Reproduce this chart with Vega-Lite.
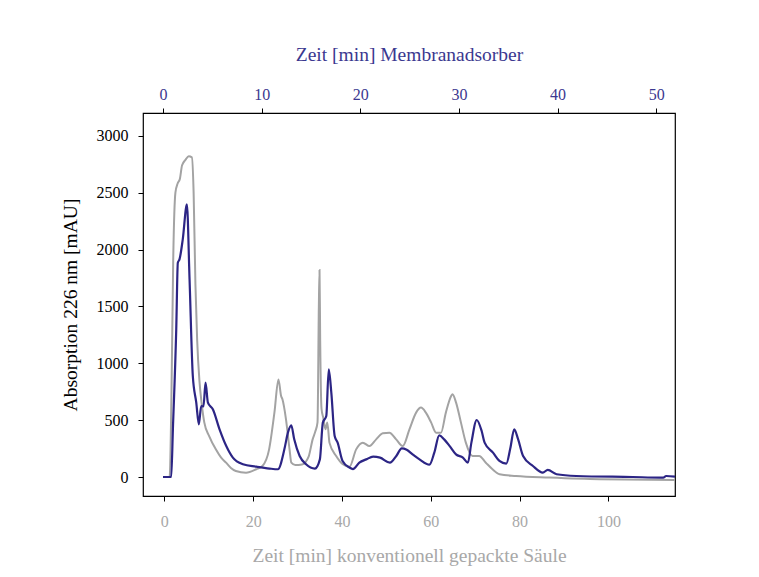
{
  "$schema": "https://vega.github.io/schema/vega-lite/v6.json",
  "autosize": "none",
  "width": 532,
  "height": 383,
  "padding": {"left": 143, "top": 113, "right": 84, "bottom": 81},
  "background": "white",
  "config": {
    "font": "Liberation Serif",
    "view": {"stroke": "black", "strokeWidth": 1.2},
    "axis": {"grid": false, "labelFont": "Liberation Serif", "titleFont": "Liberation Serif", "labelFontSize": 16, "titleFontSize": 19.5, "titleFontWeight": "normal", "tickSize": 5, "domain": false}
  },
  "datasets": {
    "saeule": [
      {"t": 0, "v": 0}, {"t": 1.2, "v": 0}, {"t": 1.6, "v": 700}, {"t": 2.0, "v": 1900}, {"t": 2.5, "v": 2500},
      {"t": 3.0, "v": 2580}, {"t": 3.5, "v": 2620}, {"t": 4.0, "v": 2740}, {"t": 4.8, "v": 2790}, {"t": 5.5, "v": 2820},
      {"t": 6.2, "v": 2810}, {"t": 6.6, "v": 2500}, {"t": 7.0, "v": 1700}, {"t": 7.4, "v": 1200}, {"t": 7.9, "v": 850},
      {"t": 8.4, "v": 650}, {"t": 9.0, "v": 480}, {"t": 10.1, "v": 360}, {"t": 11.6, "v": 243}, {"t": 12.8, "v": 170},
      {"t": 13.9, "v": 126}, {"t": 15.0, "v": 80}, {"t": 16.1, "v": 53}, {"t": 18.4, "v": 38}, {"t": 20.7, "v": 68},
      {"t": 22.1, "v": 97}, {"t": 23.6, "v": 243}, {"t": 24.8, "v": 568}, {"t": 25.7, "v": 858}, {"t": 26.3, "v": 712},
      {"t": 26.6, "v": 683}, {"t": 27.4, "v": 507}, {"t": 28.2, "v": 243}, {"t": 28.6, "v": 126}, {"t": 29.5, "v": 105},
      {"t": 31.0, "v": 110}, {"t": 32.5, "v": 180}, {"t": 33.4, "v": 331}, {"t": 34.0, "v": 400}, {"t": 34.5, "v": 480},
      {"t": 34.8, "v": 1500}, {"t": 34.95, "v": 1820}, {"t": 35.1, "v": 1200}, {"t": 35.4, "v": 600}, {"t": 35.8, "v": 520},
      {"t": 36.3, "v": 420}, {"t": 36.7, "v": 480}, {"t": 37.2, "v": 300}, {"t": 38.7, "v": 185}, {"t": 40.2, "v": 112},
      {"t": 41.7, "v": 90}, {"t": 43.2, "v": 243}, {"t": 44.7, "v": 302}, {"t": 46.2, "v": 272}, {"t": 47.7, "v": 331},
      {"t": 49.2, "v": 384}, {"t": 50.7, "v": 390}, {"t": 52.2, "v": 331}, {"t": 53.7, "v": 272}, {"t": 55.2, "v": 419},
      {"t": 56.7, "v": 566}, {"t": 57.8, "v": 610}, {"t": 58.9, "v": 566}, {"t": 60.1, "v": 478}, {"t": 61.2, "v": 390},
      {"t": 62.3, "v": 390}, {"t": 63.4, "v": 566}, {"t": 64.6, "v": 712}, {"t": 64.9, "v": 727}, {"t": 65.7, "v": 654},
      {"t": 66.8, "v": 478}, {"t": 67.9, "v": 302}, {"t": 69.4, "v": 185}, {"t": 70.9, "v": 185}, {"t": 72.4, "v": 126},
      {"t": 73.9, "v": 68}, {"t": 75.5, "v": 24}, {"t": 79.2, "v": 9}, {"t": 86.7, "v": -5}, {"t": 98, "v": -20},
      {"t": 115, "v": -26}
    ],
    "membran": [
      {"t": 0, "v": 0}, {"t": 0.83, "v": 0}, {"t": 1.0, "v": 419}, {"t": 1.34, "v": 1298}, {"t": 1.5, "v": 1884},
      {"t": 1.67, "v": 1913}, {"t": 2.0, "v": 2089}, {"t": 2.42, "v": 2396}, {"t": 2.69, "v": 1736}, {"t": 3.02, "v": 888},
      {"t": 3.37, "v": 654}, {"t": 3.63, "v": 463}, {"t": 3.87, "v": 624}, {"t": 4.1, "v": 620}, {"t": 4.31, "v": 829},
      {"t": 4.55, "v": 654}, {"t": 5.05, "v": 595}, {"t": 5.73, "v": 419}, {"t": 6.41, "v": 272}, {"t": 7.08, "v": 170},
      {"t": 8.1, "v": 112}, {"t": 9.45, "v": 91}, {"t": 10.8, "v": 74}, {"t": 11.65, "v": 68}, {"t": 12.3, "v": 243},
      {"t": 12.66, "v": 390}, {"t": 13.0, "v": 454}, {"t": 13.3, "v": 331}, {"t": 13.85, "v": 185}, {"t": 14.5, "v": 112},
      {"t": 15.4, "v": 74}, {"t": 15.9, "v": 155}, {"t": 16.2, "v": 478}, {"t": 16.55, "v": 536}, {"t": 16.8, "v": 946},
      {"t": 17.06, "v": 742}, {"t": 17.4, "v": 360}, {"t": 17.7, "v": 302}, {"t": 18.2, "v": 141}, {"t": 18.9, "v": 83},
      {"t": 19.25, "v": 70}, {"t": 19.9, "v": 126}, {"t": 20.6, "v": 155}, {"t": 21.3, "v": 179}, {"t": 22.0, "v": 170},
      {"t": 23.0, "v": 126}, {"t": 23.65, "v": 185}, {"t": 24.2, "v": 252}, {"t": 24.7, "v": 240}, {"t": 25.3, "v": 199},
      {"t": 26.0, "v": 155}, {"t": 27.0, "v": 108}, {"t": 27.5, "v": 214}, {"t": 28.0, "v": 366}, {"t": 28.5, "v": 331},
      {"t": 29.06, "v": 272}, {"t": 29.7, "v": 199}, {"t": 30.4, "v": 170}, {"t": 30.9, "v": 126}, {"t": 31.26, "v": 302},
      {"t": 31.8, "v": 501}, {"t": 32.3, "v": 404}, {"t": 32.6, "v": 302}, {"t": 33.45, "v": 214}, {"t": 34.1, "v": 141},
      {"t": 34.8, "v": 117}, {"t": 35.2, "v": 250}, {"t": 35.6, "v": 419}, {"t": 36.0, "v": 331}, {"t": 36.5, "v": 185},
      {"t": 37.5, "v": 97}, {"t": 38.5, "v": 39}, {"t": 39.0, "v": 62}, {"t": 39.9, "v": 24}, {"t": 41.9, "v": 9},
      {"t": 47.6, "v": 0}, {"t": 50.4, "v": -5}, {"t": 50.7, "v": -5}, {"t": 51.0, "v": 9}, {"t": 51.9, "v": 3}
    ]
  },
  "layer": [
    {
      "data": {"name": "saeule"},
      "mark": {"type": "line", "color": "#A3A3A3", "strokeWidth": 2, "clip": true, "interpolate": "monotone"},
      "encoding": {
        "x": {"field": "t", "type": "quantitative",
          "scale": {"domain": [-4.8, 115], "nice": false, "zero": false},
          "axis": {"orient": "bottom", "title": "Zeit [min] konventionell gepackte Säule", "values": [0, 20, 40, 60, 80, 100], "format": "d",
            "labelColor": "#A8A8A8", "titleColor": "#A8A8A8", "tickColor": "black", "labelPadding": 12, "titlePadding": 17}},
        "y": {"field": "v", "type": "quantitative",
          "scale": {"domain": [-167, 3200], "nice": false, "zero": false},
          "axis": {"title": "Absorption 226 nm [mAU]", "values": [0, 500, 1000, 1500, 2000, 2500, 3000], "format": "d",
            "labelColor": "black", "titleColor": "black", "tickColor": "black", "labelPadding": 10, "titlePadding": 16}}
      }
    },
    {
      "data": {"name": "membran"},
      "mark": {"type": "line", "color": "#2C2585", "strokeWidth": 2.2, "clip": true, "interpolate": "monotone"},
      "encoding": {
        "x": {"field": "t", "type": "quantitative",
          "scale": {"domain": [-2.03, 51.9], "nice": false, "zero": false},
          "axis": {"orient": "top", "title": "Zeit [min] Membranadsorber", "values": [0, 10, 20, 30, 40, 50], "format": "d",
            "labelColor": "#3B3890", "titleColor": "#3B3890", "tickColor": "black", "labelPadding": 6, "titlePadding": 22}},
        "y": {"field": "v", "type": "quantitative", "scale": {"domain": [-167, 3200], "nice": false, "zero": false}}
      }
    }
  ],
  "resolve": {"scale": {"x": "independent"}, "axis": {"x": "independent"}}
}
